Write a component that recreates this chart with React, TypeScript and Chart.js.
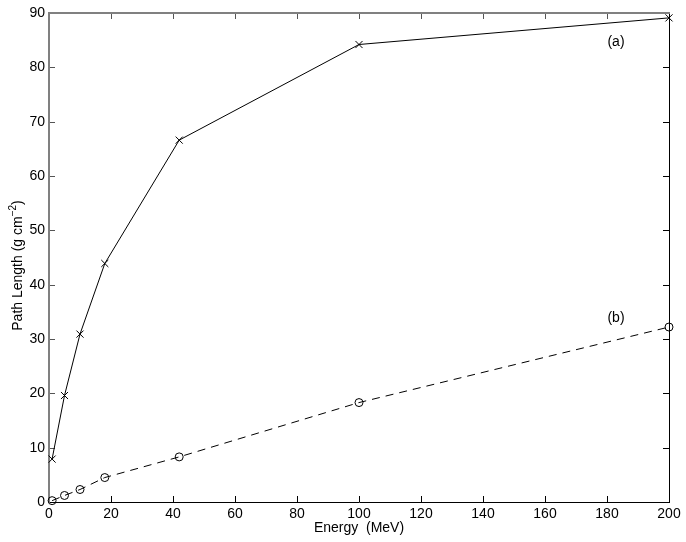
import React, { useEffect, useRef } from "react";
import { Chart, registerables } from "chart.js";

Chart.register(...registerables);

const energies = [1, 5, 10, 18, 42, 100, 200];
const pathA = [7.9, 19.6, 30.9, 43.9, 66.6, 84.2, 89.1];
const pathB = [0.25, 1.2, 2.3, 4.5, 8.3, 18.3, 32.2];
const xTicks = [0, 20, 40, 60, 80, 100, 120, 140, 160, 180, 200];
const yTicks = [0, 10, 20, 30, 40, 50, 60, 70, 80, 90];
const curveLabels = [
  { text: "(a)", x: 182.9, y: 84.7 },
  { text: "(b)", x: 182.9, y: 33.8 },
];
const xTitle = "Energy  (MeV)";
const yTitleMain = "Path Length (g cm";
const yTitleSup = "\u22122";
const yTitleEnd = ")";

const FONT = "'Liberation Sans', Arial, Helvetica, sans-serif";

const decor = {
  id: "decor",
  beforeDatasetsDraw(chart: any) {
    const { ctx, chartArea: a, scales } = chart;
    const xs = scales.x;
    const ys = scales.y;
    ctx.save();
    ctx.lineWidth = 1;
    const TL = 6;
    xTicks.forEach((v) => {
      if (v === xTicks[0] || v === xTicks[xTicks.length - 1]) return;
      const px = Math.round(xs.getPixelForValue(v)) + 0.5;
      ctx.strokeStyle = "#000";
      ctx.beginPath();
      ctx.moveTo(px, a.bottom);
      ctx.lineTo(px, a.bottom - TL);
      ctx.stroke();
      ctx.strokeStyle = "#555";
      ctx.beginPath();
      ctx.moveTo(px, a.top);
      ctx.lineTo(px, a.top + TL);
      ctx.stroke();
    });
    yTicks.forEach((v) => {
      if (v === yTicks[0] || v === yTicks[yTicks.length - 1]) return;
      const py = Math.round(ys.getPixelForValue(v)) + 0.5;
      ctx.strokeStyle = "#555";
      ctx.beginPath();
      ctx.moveTo(a.left, py);
      ctx.lineTo(a.left + TL, py);
      ctx.stroke();
      ctx.strokeStyle = "#000";
      ctx.beginPath();
      ctx.moveTo(a.right, py);
      ctx.lineTo(a.right - TL, py);
      ctx.stroke();
    });
    ctx.strokeStyle = "#000";
    ctx.lineWidth = 1;
    ctx.beginPath();
    ctx.moveTo(a.left, a.bottom + 0.5);
    ctx.lineTo(a.right + 1, a.bottom + 0.5);
    ctx.moveTo(a.right + 0.5, a.bottom + 1);
    ctx.lineTo(a.right + 0.5, a.top);
    ctx.stroke();
    ctx.strokeStyle = "#808080";
    ctx.lineWidth = 2;
    ctx.beginPath();
    ctx.moveTo(a.left, a.bottom + 1);
    ctx.lineTo(a.left, a.top);
    ctx.lineTo(a.right + 1, a.top);
    ctx.stroke();
    ctx.restore();
  },
  afterDraw(chart: any) {
    const { ctx, chartArea: a, scales } = chart;
    const xs = scales.x;
    const ys = scales.y;
    ctx.save();
    ctx.fillStyle = "#000";
    ctx.font = `14px ${FONT}`;
    ctx.textAlign = "center";
    ctx.textBaseline = "middle";
    curveLabels.forEach((l) => {
      ctx.fillText(l.text, xs.getPixelForValue(l.x), ys.getPixelForValue(l.y));
    });
    ctx.fillText(xTitle, (a.left + a.right) / 2, 528);
    const mainW = ctx.measureText(yTitleMain).width;
    ctx.font = `10px ${FONT}`;
    const supW = ctx.measureText(yTitleSup).width;
    ctx.font = `14px ${FONT}`;
    const endW = ctx.measureText(yTitleEnd).width;
    const total = mainW + supW + endW;
    ctx.translate(17, (a.top + a.bottom) / 2 + 8);
    ctx.rotate(-Math.PI / 2);
    ctx.textAlign = "left";
    ctx.textBaseline = "alphabetic";
    const base = 5;
    let cx = -total / 2;
    ctx.fillText(yTitleMain, cx, base);
    cx += mainW;
    ctx.font = `10px ${FONT}`;
    ctx.fillText(yTitleSup, cx, base - 6);
    cx += supW;
    ctx.font = `14px ${FONT}`;
    ctx.fillText(yTitleEnd, cx, base);
    ctx.restore();
  },
};

export default function App() {
  const ref = useRef<HTMLCanvasElement | null>(null);
  useEffect(() => {
    if (!ref.current) return;
    const chart = new Chart(ref.current, {
      type: "line",
      data: {
        datasets: [
          {
            label: "(a)",
            data: energies.map((e, i) => ({ x: e, y: pathA[i] })),
            borderColor: "#000",
            borderWidth: 1,
            pointStyle: "crossRot",
            pointRadius: 5,
            pointBorderColor: "#000",
            pointBorderWidth: 1,
            backgroundColor: "transparent",
            fill: false,
            tension: 0,
            clip: false,
          } as any,
          {
            label: "(b)",
            data: energies.map((e, i) => ({ x: e, y: pathB[i] })),
            borderColor: "#000",
            borderWidth: 1,
            borderDash: [8, 6],
            pointStyle: "circle",
            pointRadius: 4,
            pointBorderColor: "#000",
            pointBackgroundColor: "transparent",
            pointBorderWidth: 1,
            backgroundColor: "transparent",
            fill: false,
            tension: 0,
            clip: false,
          } as any,
        ],
      },
      options: {
        animation: false,
        responsive: true,
        maintainAspectRatio: false,
        layout: { padding: { top: 13, right: 17, left: 0, bottom: 0 } },
        plugins: {
          legend: { display: false },
          tooltip: { enabled: false },
          title: { display: false },
        },
        scales: {
          x: {
            type: "linear",
            min: 0,
            max: 200,
            afterFit: (s: any) => {
              s.height = 40;
            },
            afterBuildTicks: (s: any) => {
              s.ticks = xTicks.map((v) => ({ value: v }));
            },
            grid: { display: false, drawTicks: false },
            border: { display: false },
            ticks: {
              color: "#000",
              padding: 4,
              maxRotation: 0,
              autoSkip: false,
              font: { family: FONT, size: 14 },
            },
          },
          y: {
            type: "linear",
            min: 0,
            max: 90,
            afterFit: (s: any) => {
              s.width = 49;
            },
            afterBuildTicks: (s: any) => {
              s.ticks = yTicks.map((v) => ({ value: v }));
            },
            grid: { display: false, drawTicks: false },
            border: { display: false },
            ticks: {
              color: "#000",
              padding: 4,
              autoSkip: false,
              font: { family: FONT, size: 14 },
            },
          },
        },
      },
      plugins: [decor],
    });
    return () => chart.destroy();
  }, []);
  return (
    <div style={{ position: "fixed", left: 0, top: 0, width: 686, height: 542, background: "#fff" }}>
      <canvas ref={ref} />
    </div>
  );
}
